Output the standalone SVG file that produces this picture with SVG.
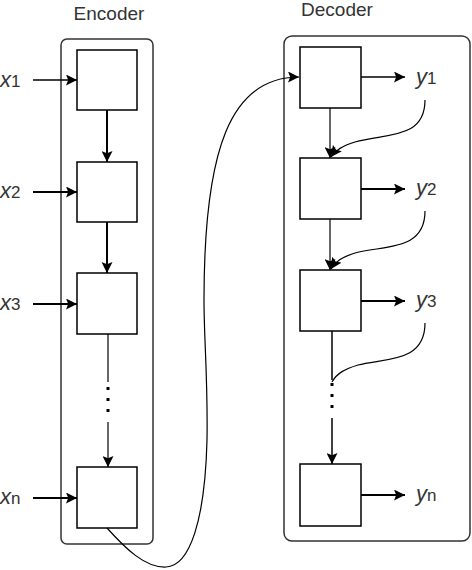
<svg xmlns="http://www.w3.org/2000/svg" width="472" height="570" viewBox="0 0 472 570">
<style>
.cont{fill:none;stroke:#333;stroke-width:1.5}
.box{fill:#fff;stroke:#000;stroke-width:1.5}
.ln{fill:none;stroke:#000;stroke-width:1.5}
.lb{fill:none;stroke:#000;stroke-width:2}
.lt{fill:none;stroke:#000;stroke-width:1.2}
.dot{stroke:#000;stroke-width:3;stroke-dasharray:3 8}
.title{font-family:"Liberation Sans",Arial,sans-serif;font-size:19px;fill:#333}
.lab{font-family:"Liberation Sans",Arial,sans-serif;fill:#333}
.v{font-size:22px;font-style:italic}
.s{font-size:17px}
</style>
<defs>
<marker id="ah" viewBox="0 0 10 10" refX="10" refY="5" markerWidth="11" markerHeight="11" markerUnits="userSpaceOnUse" orient="auto">
<path d="M0,0 L10,5 L0,10 L2,5 z" fill="#000"/>
</marker>
</defs>
<text class="title" x="109" y="20" text-anchor="middle">Encoder</text>
<text class="title" x="337" y="16" text-anchor="middle">Decoder</text>
<rect class="cont" x="61" y="39" width="92" height="505" rx="6"/>
<rect class="cont" x="284" y="36" width="186" height="505" rx="8"/>
<g id="enc1"><rect class="box" x="77" y="50" width="60" height="60"/></g>
<g id="enc2"><rect class="box" x="77" y="162" width="60" height="60"/></g>
<g id="enc3"><rect class="box" x="77" y="273" width="60" height="61"/></g>
<g id="encn"><rect class="box" x="77" y="467" width="60" height="61"/></g>
<g id="dec1"><rect class="box" x="300" y="47" width="61" height="61"/></g>
<g id="dec2"><rect class="box" x="300" y="158" width="61" height="61"/></g>
<g id="dec3"><rect class="box" x="300" y="270" width="61" height="61"/></g>
<g id="decn"><rect class="box" x="300" y="464" width="61" height="62"/></g>
<g id="labels">
<text class="lab" x="0" y="87"><tspan class="v">x</tspan><tspan class="s">1</tspan></text>
<text class="lab" x="0" y="198"><tspan class="v">x</tspan><tspan class="s">2</tspan></text>
<text class="lab" x="0" y="310"><tspan class="v">x</tspan><tspan class="s">3</tspan></text>
<text class="lab" x="0" y="504"><tspan class="v">x</tspan><tspan class="s">n</tspan></text>
<text class="lab" x="416" y="84"><tspan class="v">y</tspan><tspan class="s">1</tspan></text>
<text class="lab" x="416" y="195"><tspan class="v">y</tspan><tspan class="s">2</tspan></text>
<text class="lab" x="416" y="307"><tspan class="v">y</tspan><tspan class="s">3</tspan></text>
<text class="lab" x="416" y="501"><tspan class="v">y</tspan><tspan class="s">n</tspan></text>
</g>
<g id="connectors">
<line class="ln" x1="33" y1="80" x2="77" y2="80" marker-end="url(#ah)"/>
<line class="lb" x1="33" y1="192" x2="77" y2="192" marker-end="url(#ah)"/>
<line class="lb" x1="33" y1="304" x2="77" y2="304" marker-end="url(#ah)"/>
<line class="lb" x1="33" y1="498" x2="77" y2="498" marker-end="url(#ah)"/>
<line class="lb" x1="107" y1="110" x2="107" y2="162" marker-end="url(#ah)"/>
<line class="lb" x1="107" y1="222" x2="107" y2="273" marker-end="url(#ah)"/>
<line class="lt" x1="108" y1="334" x2="108" y2="382"/>
<line class="dot" x1="108" y1="387" x2="108" y2="415"/>
<line class="lt" x1="108" y1="422" x2="108" y2="467" marker-end="url(#ah)"/>
<line class="ln" x1="361" y1="77" x2="405" y2="77" marker-end="url(#ah)"/>
<line class="lb" x1="361" y1="189" x2="405" y2="189" marker-end="url(#ah)"/>
<line class="lb" x1="361" y1="301" x2="405" y2="301" marker-end="url(#ah)"/>
<line class="lb" x1="361" y1="495" x2="405" y2="495" marker-end="url(#ah)"/>
<line class="lt" x1="330" y1="108" x2="330" y2="158" marker-end="url(#ah)"/>
<line class="lt" x1="330" y1="219" x2="330" y2="270" marker-end="url(#ah)"/>
<line class="ln" x1="332" y1="331" x2="332" y2="380"/>
<line class="dot" x1="332" y1="383" x2="332" y2="412"/>
<line class="ln" x1="332" y1="418" x2="332" y2="464" marker-end="url(#ah)"/>
<path class="lt" d="M425,100 C425,140 385,133 355,142 C342,146 336,150 331,157" marker-end="url(#ah)"/>
<path class="lt" d="M425,211 C425,251 385,245 355,253 C342,257 336,261 331,269" marker-end="url(#ah)"/>
<path class="lt" d="M425,323 C425,363 385,358 358,365 C345,369 337,373 332,382"/>
<path class="lt" d="M107,528 C125,548 145,568 166,567 C190,566 205,520 207,440 C208,380 204,340 204,300 C204,150 230,77 299,77" marker-end="url(#ah)"/>
</g>
</svg>
